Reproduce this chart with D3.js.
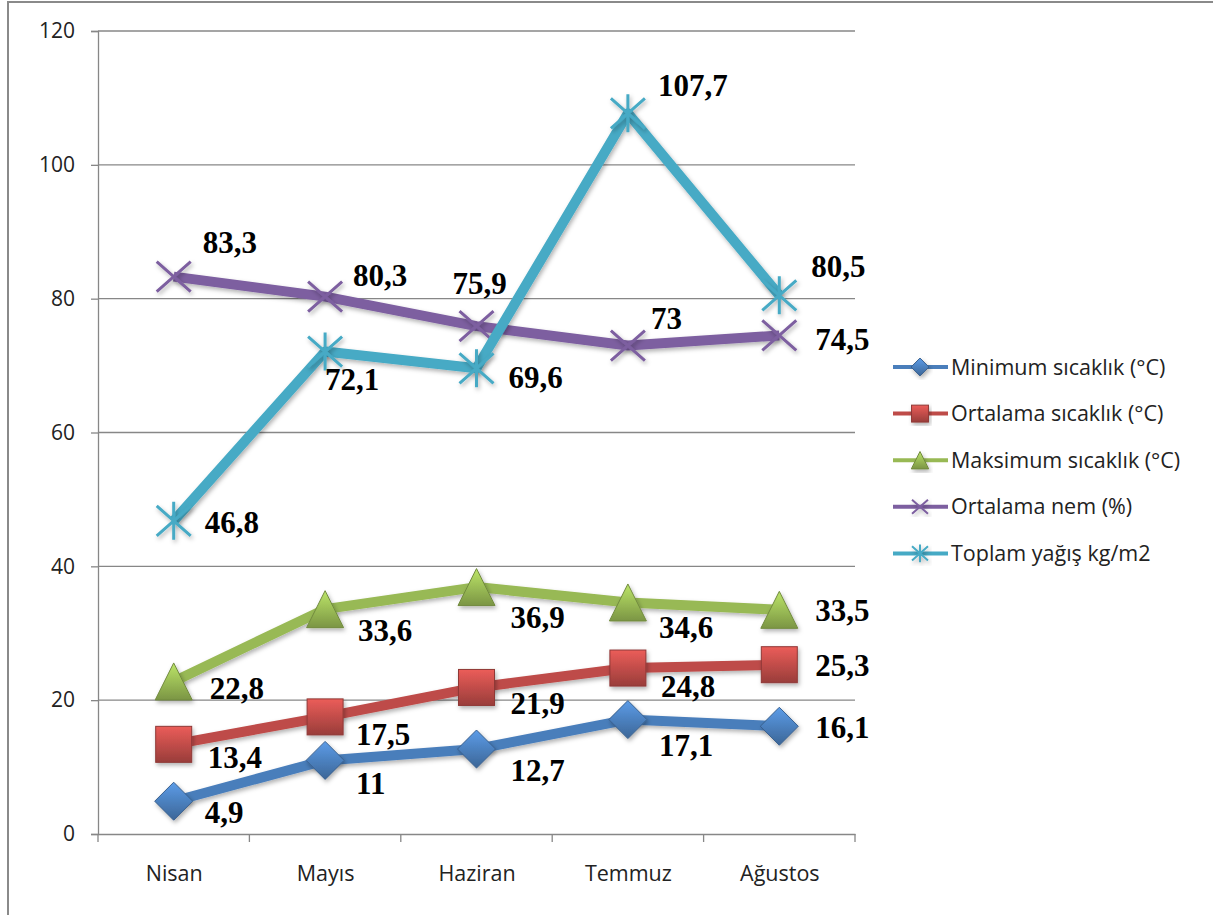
<!DOCTYPE html>
<html><head><meta charset="utf-8">
<script src="https://cdn.jsdelivr.net/npm/d3@7"></script>
<style>body{margin:0;background:#fff}</style>
</head><body>
<svg id="chart" width="1213" height="915"></svg>
<script>
const months = ["Nisan","Mayıs","Haziran","Temmuz","Ağustos"];
const minTemp = [4.9, 11, 12.7, 17.1, 16.1];
const avgTemp = [13.4, 17.5, 21.9, 24.8, 25.3];
const maxTemp = [22.8, 33.6, 36.9, 34.6, 33.5];
const humidity = [83.3, 80.3, 75.9, 73, 74.5];
const rainfall = [46.8, 72.1, 69.6, 107.7, 80.5];
const seriesNames = ["Minimum sıcaklık (°C)","Ortalama sıcaklık (°C)","Maksimum sıcaklık (°C)","Ortalama nem  (%)","Toplam yağış kg/m2"];
const yTicks = [0,20,40,60,80,100,120];

// label offsets relative to point (dx to left edge of text, dy to baseline)
const labelOffsets = [
  [[31,22],[31,34],[34,32],[31,36],[36,12]],
  [[34,24],[31,28],[34,27],[33,29],[36,11]],
  [[36,18],[33,32],[34,41],[31,36],[36,11]],
  [[29,-24],[28,-11],[-24,-32],[23,-17],[36,15]],
  [[31,12],[0,38],[32,20],[30,-17],[32,-18]]
];
const colors = ["#4A7EBB","#BE4B48","#98B954","#7D5FA0","#46AAC5"];
const shapes = ["diamond","square","triangle","x","star"];
const data = [minTemp, avgTemp, maxTemp, humidity, rainfall];

const svg = d3.select("#chart");
const defs = svg.append("defs");
const fl = defs.append("filter").attr("id","sh").attr("x","-20%").attr("y","-20%").attr("width","140%").attr("height","140%");
fl.append("feDropShadow").attr("dx",1.5).attr("dy",2.5).attr("stdDeviation",2).attr("flood-color","#000").attr("flood-opacity",0.3);
colors.forEach((c,i)=>{
  const g = defs.append("linearGradient").attr("id","g"+i).attr("x1",0).attr("y1",0).attr("x2",0).attr("y2",1);
  g.append("stop").attr("offset","0%").attr("stop-color",d3.color(c).brighter(0.6));
  g.append("stop").attr("offset","55%").attr("stop-color",c);
  g.append("stop").attr("offset","100%").attr("stop-color",d3.color(c).darker(0.6));
});

// outer border
svg.append("rect").attr("x",8).attr("y",2).attr("width",1230).attr("height",940)
  .attr("fill","none").attr("stroke","#8a8a8a").attr("stroke-width",2);

const pLeft=98, pRight=855, pTop=31, pBottom=834;
const x = d3.scalePoint().domain(months).range([pLeft,pRight]).padding(0.5);
const xBand = d3.scaleBand().domain(months).range([pLeft,pRight]);
const y = d3.scaleLinear().domain([0,120]).range([pBottom,pTop]);

// gridlines + y axis
const yAxis = d3.axisLeft(y).tickValues(yTicks).tickSize(7).tickPadding(16);
const gy = svg.append("g").attr("transform",`translate(${pLeft},0)`).call(yAxis);
gy.select(".domain").attr("stroke","#878787").attr("stroke-width",1.3);
gy.selectAll(".tick line").attr("stroke","#878787").attr("stroke-width",1.3);
gy.selectAll(".tick text").attr("font-family","Open Sans").attr("font-size",21).attr("fill","#222");
svg.append("g").selectAll("line").data(yTicks.filter(d=>d>0)).join("line")
  .attr("x1",pLeft).attr("x2",pRight).attr("y1",d=>y(d)).attr("y2",d=>y(d))
  .attr("stroke","#878787").attr("stroke-width",1.3);

// x axis
const gx = svg.append("g").attr("transform",`translate(0,${pBottom})`)
  .call(d3.axisBottom(x).tickSize(0).tickPadding(32));
gx.select(".domain").attr("stroke","#878787").attr("stroke-width",1.3);
gx.selectAll(".tick text").attr("font-family","Open Sans").attr("font-size",21.5).attr("fill","#222");
const boundaries = months.map(m=>xBand(m)).concat([pRight]);
svg.append("g").selectAll("line").data(boundaries).join("line")
  .attr("x1",d=>d).attr("x2",d=>d).attr("y1",pBottom).attr("y2",pBottom+8)
  .attr("stroke","#878787").attr("stroke-width",1.3);

function drawMarker(g, shape, i, cx, cy, scale){
  const s = scale||1;
  if(shape==="diamond"){
    const r=19*s;
    g.append("path").attr("d",`M${cx},${cy-r}L${cx+r},${cy}L${cx},${cy+r}L${cx-r},${cy}Z`)
      .attr("fill",`url(#g${i})`).attr("stroke",d3.color(colors[i]).darker(0.8)).attr("stroke-width",1).attr("filter","url(#sh)");
  } else if(shape==="square"){
    const r=18*s;
    g.append("rect").attr("x",cx-r).attr("y",cy-r).attr("width",2*r).attr("height",2*r)
      .attr("fill",`url(#g${i})`).attr("stroke",d3.color(colors[i]).darker(0.8)).attr("stroke-width",1).attr("filter","url(#sh)");
  } else if(shape==="triangle"){
    const r=18.5*s;
    g.append("path").attr("d",`M${cx},${cy-r}L${cx+r},${cy+r}L${cx-r},${cy+r}Z`)
      .attr("fill",`url(#g${i})`).attr("stroke",d3.color(colors[i]).darker(0.8)).attr("stroke-width",1).attr("filter","url(#sh)");
  } else {
    const rx=17*s, ry=15*s;
    let d=`M${cx-rx},${cy-ry}L${cx+rx},${cy+ry}M${cx-rx},${cy+ry}L${cx+rx},${cy-ry}`;
    if(shape==="star") d+=`M${cx},${cy-19*s}L${cx},${cy+19*s}`;
    g.append("path").attr("d",d).attr("stroke",colors[i]).attr("stroke-width",Math.max(2,3*s)).attr("fill","none").attr("filter","url(#sh)");
  }
}

const line = d3.line().x((d,j)=>x(months[j])).y(d=>y(d));
data.forEach((vals,i)=>{
  const g = svg.append("g");
  g.append("path").datum(vals).attr("d",line).attr("fill","none")
    .attr("stroke",colors[i]).attr("stroke-width",10).attr("stroke-linejoin","round").attr("filter","url(#sh)");
  vals.forEach((v,j)=>drawMarker(g, shapes[i], i, x(months[j]), y(v)));
});
data.forEach((vals,i)=>{
  svg.append("g").selectAll("text").data(vals).join("text")
    .attr("x",(d,j)=>x(months[j])+labelOffsets[i][j][0])
    .attr("y",(d,j)=>y(d)+labelOffsets[i][j][1])
    .attr("font-family","Liberation Serif").attr("font-weight","bold").attr("font-size",31).attr("fill","#000")
    .text(d=>String(d).replace(".",","));
});

// legend
const lg = svg.append("g");
seriesNames.forEach((n,i)=>{
  const ly = 367 + i*46.6;
  lg.append("line").attr("x1",893).attr("x2",948).attr("y1",ly).attr("y2",ly)
    .attr("stroke",colors[i]).attr("stroke-width",4);
  drawMarker(lg, shapes[i], i, 920, ly, 0.47);
  lg.append("text").attr("x",951).attr("y",ly).attr("dy","0.35em")
    .attr("font-family","Open Sans").attr("font-size",21.5).attr("fill","#222").text(n);
});
</script>
</body></html>
